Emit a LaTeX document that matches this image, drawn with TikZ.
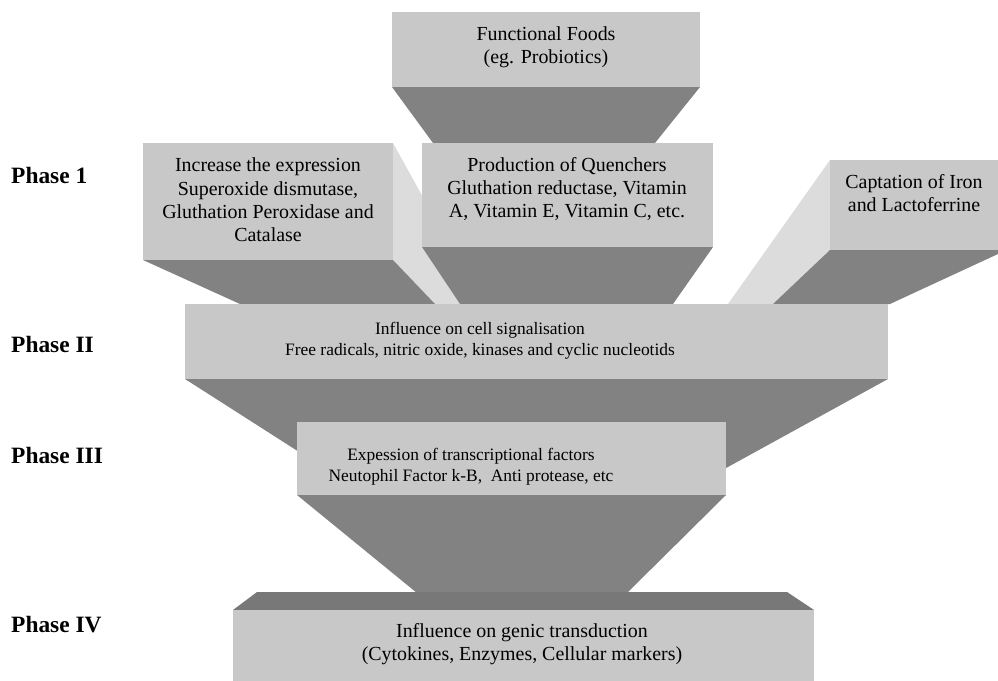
\documentclass[tikz,border=0pt]{standalone}
\usepackage{fontspec}
\setmainfont{Liberation Serif}
\definecolor{frontgray}{RGB}{200,200,200}
\definecolor{darkgray}{RGB}{130,130,130}
\definecolor{sidegray}{RGB}{220,220,220}
\definecolor{topgray}{RGB}{120,120,120}
\tikzset{
  frontface/.style={fill=frontgray, draw=none},
  darkface/.style={fill=darkgray, draw=none},
  sideface/.style={fill=sidegray, draw=none},
  topface/.style={fill=topgray, draw=none},
  bigtext/.style={font=\fontsize{20}{23.5}\selectfont, align=center, inner sep=0pt},
  midtext/.style={font=\fontsize{17.5}{21.5}\selectfont, align=center, inner sep=0pt},
  phaselabel/.style={font=\fontsize{23.5}{26}\selectfont\bfseries, anchor=base west, inner sep=0pt}
}
\begin{document}
\begin{tikzpicture}[x=1bp,y=-1bp]
\useasboundingbox (0,0) rectangle (998,681);

% ---- Top box: Functional Foods
\fill[darkface] (392,87) -- (700,87) -- (655,143) -- (433,143) -- cycle;
\fill[frontface] (392,12) rectangle (700,87);
\node[bigtext] (ff) at (546,47) {Functional Foods\\(eg. Probiotics)};

% ---- Left box (Phase 1)
\fill[sideface] (393,143) -- (482,304) -- (435,304) -- (393,260) -- cycle;
\fill[darkface] (143,260) -- (393,260) -- (435,304) -- (240,304) -- cycle;
\fill[frontface] (143,143) rectangle (393,260);
\node[bigtext] (incr) at (268,200) {Increase the expression\\Superoxide dismutase,\\Gluthation Peroxidase and\\Catalase};

% ---- Right box (Phase 1)
\fill[sideface] (830,160) -- (830,250) -- (773,304) -- (728,304) -- cycle;
\fill[darkface] (830,250) -- (998,250) -- (998,254) -- (890,304) -- (773,304) -- cycle;
\fill[frontface] (830,160) rectangle (998,250);
\node[bigtext] (capt) at (914,193) {Captation of Iron\\and Lactoferrine};

% ---- Middle box (Phase 1)
\fill[darkface] (422,247) -- (713,247) -- (673,304) -- (460,304) -- cycle;
\fill[frontface] (422,143) rectangle (713,247);
\node[bigtext] (quen) at (567,189) {Production of Quenchers\\Gluthation reductase, Vitamin\\A, Vitamin E, Vitamin C, etc.};

% ---- Phase II box
\fill[darkface] (185,379) -- (888,379) -- (717,473) -- (332,473) -- cycle;
\fill[frontface] (185,304) rectangle (888,379);
\node[midtext] (sig) at (480,341) {Influence on cell signalisation\\Free radicals, nitric oxide, kinases and cyclic nucleotids};

% ---- Phase III box
\fill[darkface] (297,495) -- (726,495) -- (627,593) -- (417,593) -- cycle;
\fill[frontface] (297,422) rectangle (726,495);
\node[midtext] (tf) at (471,467) {Expession of transcriptional factors\\Neutophil Factor k-B,\ \ Anti protease, etc};

% ---- Phase IV box
\fill[topface] (233,610) -- (257,592) -- (787,592) -- (814,610) -- cycle;
\fill[frontface] (233,610) rectangle (814,681);
\node[bigtext] (gen) at (522,644) {Influence on genic transduction\\(Cytokines, Enzymes, Cellular markers)};

% ---- Phase labels
\node[phaselabel] (p1) at (11,184) {Phase 1};
\node[phaselabel] (p2) at (11,352) {Phase II};
\node[phaselabel] (p3) at (11,463) {Phase III};
\node[phaselabel] (p4) at (11,632) {Phase IV};
\end{tikzpicture}
\end{document}
